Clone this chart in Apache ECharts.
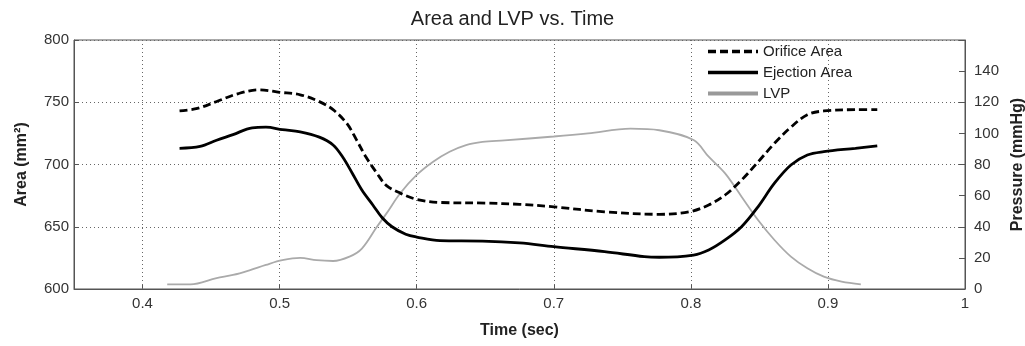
<!DOCTYPE html>
<html>
<head>
<meta charset="utf-8">
<script src="https://cdn.jsdelivr.net/npm/echarts@6/dist/echarts.min.js"></script>
<style>
  html, body { margin: 0; padding: 0; background: #fff; }
  #chart { width: 1025px; height: 346px; }
</style>
</head>
<body>
<div id="chart"></div>
<script>
// data
var orificeT = [0.427, 0.44, 0.455, 0.47, 0.485, 0.5, 0.515, 0.529, 0.539, 0.549, 0.556, 0.563, 0.571, 0.578, 0.588, 0.6, 0.617, 0.65, 0.675, 0.7, 0.737, 0.777, 0.799, 0.813, 0.825, 0.837, 0.849, 0.861, 0.873, 0.885, 0.897, 0.92, 0.936];
var orificeA = [743, 745, 751, 757, 760, 758, 756, 750.5, 744, 733, 720, 706, 693, 683, 677, 672, 669.5, 669, 668, 666, 662, 660, 662, 667.5, 675.5, 687.5, 702, 717, 730, 740, 743, 744, 744];

var ejectionT = [0.427, 0.442, 0.454, 0.466, 0.48, 0.49, 0.502, 0.515, 0.529, 0.539, 0.546, 0.553, 0.56, 0.568, 0.575, 0.582, 0.592, 0.6, 0.617, 0.648, 0.675, 0.7, 0.737, 0.766, 0.777, 0.802, 0.813, 0.825, 0.837, 0.849, 0.861, 0.873, 0.885, 0.897, 0.92, 0.936];
var ejectionA = [713, 714.5, 719.5, 724, 729.5, 730, 728, 726.3, 722, 715.7, 706, 693, 679.5, 667.5, 657, 650, 644, 641.7, 638.8, 638.5, 637, 634, 630, 626, 625.5, 627.3, 631.3, 639.4, 650, 666, 685, 699.6, 707.6, 710.3, 713, 715];

var lvpT = [0.418, 0.435, 0.454, 0.466, 0.478, 0.49, 0.502, 0.515, 0.527, 0.539, 0.551, 0.56, 0.571, 0.578, 0.588, 0.6, 0.612, 0.624, 0.636, 0.648, 0.664, 0.7, 0.725, 0.756, 0.777, 0.802, 0.813, 0.825, 0.837, 0.849, 0.861, 0.873, 0.885, 0.897, 0.91, 0.924];
var lvpP = [3, 3, 7, 9, 12, 15.5, 18.5, 20, 18.5, 18, 20.8, 26, 40, 48.6, 61.5, 73.3, 81.8, 88.2, 92.5, 94.5, 95.5, 98, 100, 103, 102, 95.7, 85, 74.3, 59.3, 44.3, 31.5, 20.8, 13.3, 7.9, 4.7, 3];

var xTicks = [0.4, 0.5, 0.6, 0.7, 0.8, 0.9, 1];
var xGrid = [0.4, 0.5, 0.6, 0.7, 0.8, 0.9];

function pairs(xs, ys) {
  return xs.map(function (x, i) { return [x, ys[i]]; });
}

var font = '"Liberation Sans", Arial, sans-serif';
var dotted = { color: '#666', type: [1, 3], width: 1 };
var chart = echarts.init(document.getElementById('chart'));

chart.setOption({
  animation: false,
  textStyle: { fontFamily: font },
  title: {
    text: 'Area and LVP vs. Time',
    left: 'center',
    top: 4,
    textStyle: { fontFamily: font, fontSize: 20, fontWeight: 'normal', color: '#222' }
  },
  legend: {
    orient: 'vertical',
    left: 701,
    top: 39,
    itemWidth: 50,
    itemHeight: 14,
    itemGap: 6,
    itemStyle: { opacity: 0 },
    textStyle: { fontFamily: font, fontSize: 15, color: '#222' },
    data: [
      { name: 'Orifice Area', lineStyle: { width: 3.5 } },
      { name: 'Ejection Area', lineStyle: { width: 3.5 } },
      { name: 'LVP', lineStyle: { width: 4, color: '#999' } }
    ]
  },
  grid: {
    left: 74,
    right: 60,
    top: 40,
    bottom: 57,
    outerBoundsMode: 'none',
    containLabel: false,
    show: true,
    borderColor: '#555',
    borderWidth: 1
  },
  xAxis: {
    type: 'value',
    min: 0.35,
    max: 1,
    interval: 0.05,
    name: 'Time (sec)',
    nameLocation: 'middle',
    nameGap: 34,
    nameTextStyle: { fontFamily: font, fontSize: 16, fontWeight: 'bold', color: '#222' },
    axisLine: { lineStyle: { color: '#555' } },
    axisTick: { inside: true, length: 5, customValues: xTicks, lineStyle: { color: '#555' } },
    axisLabel: { customValues: xTicks, fontSize: 15, color: '#333', margin: 7 },
    splitLine: { show: false }
  },
  yAxis: [{
    type: 'value',
    min: 600,
    max: 800,
    interval: 50,
    name: 'Area (mm²)',
    nameLocation: 'middle',
    nameGap: 44,
    nameTextStyle: { fontFamily: font, fontSize: 16, fontWeight: 'bold', color: '#222' },
    axisLine: { show: true, lineStyle: { color: '#555' } },
    axisTick: { show: true, inside: true, length: 5, lineStyle: { color: '#555' } },
    axisLabel: { fontSize: 15, color: '#333', margin: 5 },
    splitLine: { show: true, lineStyle: dotted }
  }, {
    type: 'value',
    min: 0,
    max: 160,
    interval: 20,
    name: 'Pressure (mmHg)',
    nameLocation: 'middle',
    nameGap: 40,
    nameTextStyle: { fontFamily: font, fontSize: 16, fontWeight: 'bold', color: '#222' },
    axisLine: { show: true, lineStyle: { color: '#555' } },
    axisTick: { show: true, inside: true, length: 6, lineStyle: { color: '#555' } },
    axisLabel: {
      fontSize: 15, color: '#333', margin: 9,
      formatter: function (v) { return v >= 160 ? '' : v; }
    },
    splitLine: { show: false }
  }],
  series: [{
    name: 'Orifice Area',
    type: 'line',
    smooth: 0.35,
    symbol: 'none',
    data: pairs(orificeT, orificeA),
    lineStyle: { color: '#000', width: 2.8, type: [8, 4] },
    itemStyle: { color: '#000' },
    z: 3
  }, {
    name: 'Ejection Area',
    type: 'line',
    smooth: 0.35,
    symbol: 'none',
    data: pairs(ejectionT, ejectionA),
    lineStyle: { color: '#000', width: 2.8 },
    itemStyle: { color: '#000' },
    z: 3,
    markLine: {
      silent: true,
      symbol: ['none', 'none'],
      label: { show: false },
      lineStyle: dotted,
      data: xGrid.map(function (x) { return { xAxis: x }; }),
      z: 1
    }
  }, {
    name: 'LVP',
    type: 'line',
    yAxisIndex: 1,
    smooth: 0.35,
    symbol: 'none',
    data: pairs(lvpT, lvpP),
    lineStyle: { color: '#aaa', width: 1.8 },
    itemStyle: { color: '#999' },
    z: 2
  }]
});
</script>
</body>
</html>
